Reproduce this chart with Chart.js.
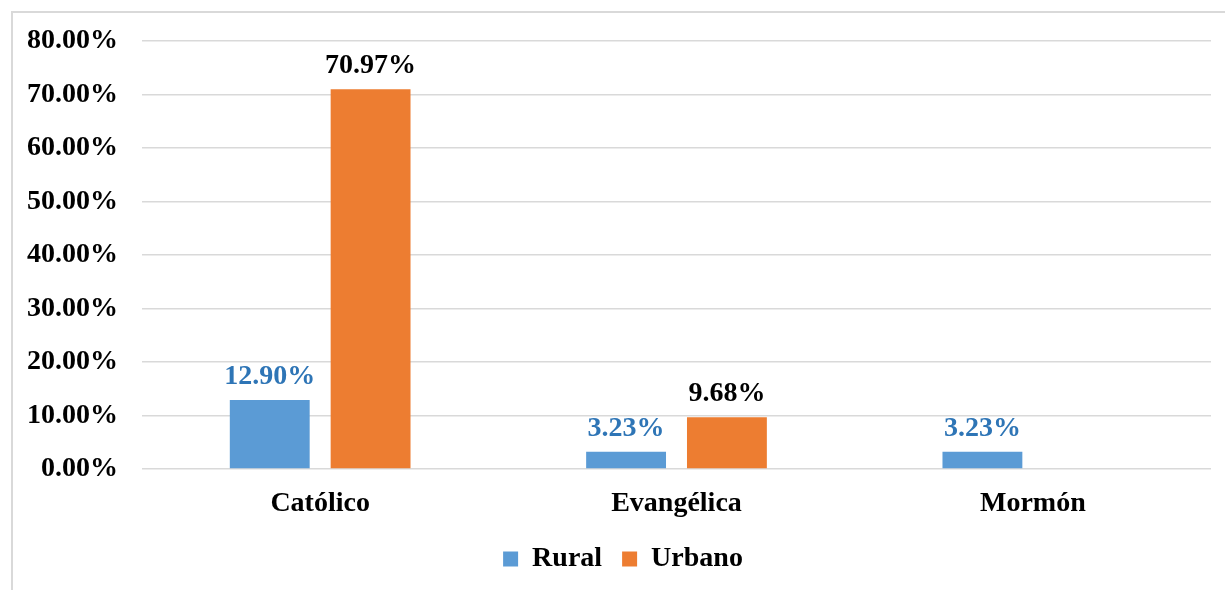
<!DOCTYPE html>
<html>
<head>
<meta charset="utf-8">
<script src="https://cdn.jsdelivr.net/npm/chart.js@4.4.0/dist/chart.umd.min.js"></script>
<style>
  html, body { margin: 0; padding: 0; background: #fff; overflow: hidden; }
  #frame { position: absolute; left: 11px; top: 11px; width: 1300px; height: 700px; border: 2px solid #d9d9d9; }
  #wrap { position: absolute; left: 0; top: 0; width: 1225px; height: 590px; }
</style>
</head>
<body>
<div id="frame"></div>
<div id="wrap"><canvas id="myChart" width="1225" height="590"></canvas></div>
<script>
// religion by area
const categories = ["Católico", "Evangélica", "Mormón"];
const rural = [12.90, 3.23, 3.23];
const urbano = [70.97, 9.68, 0];

const FONT = "'Liberation Serif', 'Times New Roman', serif";

// draws the % value above each bar (skips zero bars)
const valueLabels = {
    id: "valueLabels",
    afterDatasetsDraw(chart) {
        const ctx = chart.ctx;
        ctx.save();
        ctx.font = "bold 28px " + FONT;
        ctx.textAlign = "center";
        ctx.textBaseline = "alphabetic";
        chart.data.datasets.forEach(function(ds, i) {
            const meta = chart.getDatasetMeta(i);
            meta.data.forEach(function(bar, j) {
                const v = ds.data[j];
                if (!v) return;
                ctx.fillStyle = ds.labelColor;
                ctx.fillText(v.toFixed(2) + "%", bar.x, bar.y - 16);
            });
        });
        ctx.restore();
    }
};

// legend in the original sits a bit right of centre
const legendShift = {
    id: "legendShift",
    afterLayout(chart) {
        chart.legend.left += 35;
    }
};

var ctx = document.getElementById("myChart").getContext('2d');
var myChart = new Chart(ctx, {
    type: 'bar',
    data: {
        labels: categories,
        datasets: [
            { label: "Rural", data: rural, backgroundColor: "#5B9BD5", labelColor: "#2E75B6",
              categoryPercentage: 0.566, barPercentage: 0.792 },
            { label: "Urbano", data: urbano, backgroundColor: "#ED7D31", labelColor: "#000000",
              categoryPercentage: 0.566, barPercentage: 0.792 }
        ]
    },
    options: {
        responsive: false,
        animation: false,
        layout: { padding: { top: 41, right: 14, bottom: 7, left: 0 } },
        plugins: {
            tooltip: { enabled: false },
            legend: {
                position: "bottom",
                labels: {
                    boxWidth: 15, boxHeight: 15, padding: 20,
                    color: "#000", font: { family: FONT, size: 28, weight: "bold" }
                }
            }
        },
        scales: {
            x: {
                grid: { display: false },
                border: { display: false },
                ticks: { color: "#000", padding: 10, font: { family: FONT, size: 28, weight: "bold" } },
                afterFit: function(scale) { scale.height = 56; }
            },
            y: {
                min: 0, max: 80,
                grid: { color: "#d9d9d9", lineWidth: 1.5, drawTicks: false },
                border: { display: false },
                ticks: {
                    stepSize: 10, padding: 24, color: "#000",
                    font: { family: FONT, size: 28, weight: "bold" },
                    callback: function(v) { return v.toFixed(2) + "%"; }
                },
                afterFit: function(scale) { scale.width = 142; }
            }
        }
    },
    plugins: [valueLabels, legendShift]
});
</script>
</body>
</html>
